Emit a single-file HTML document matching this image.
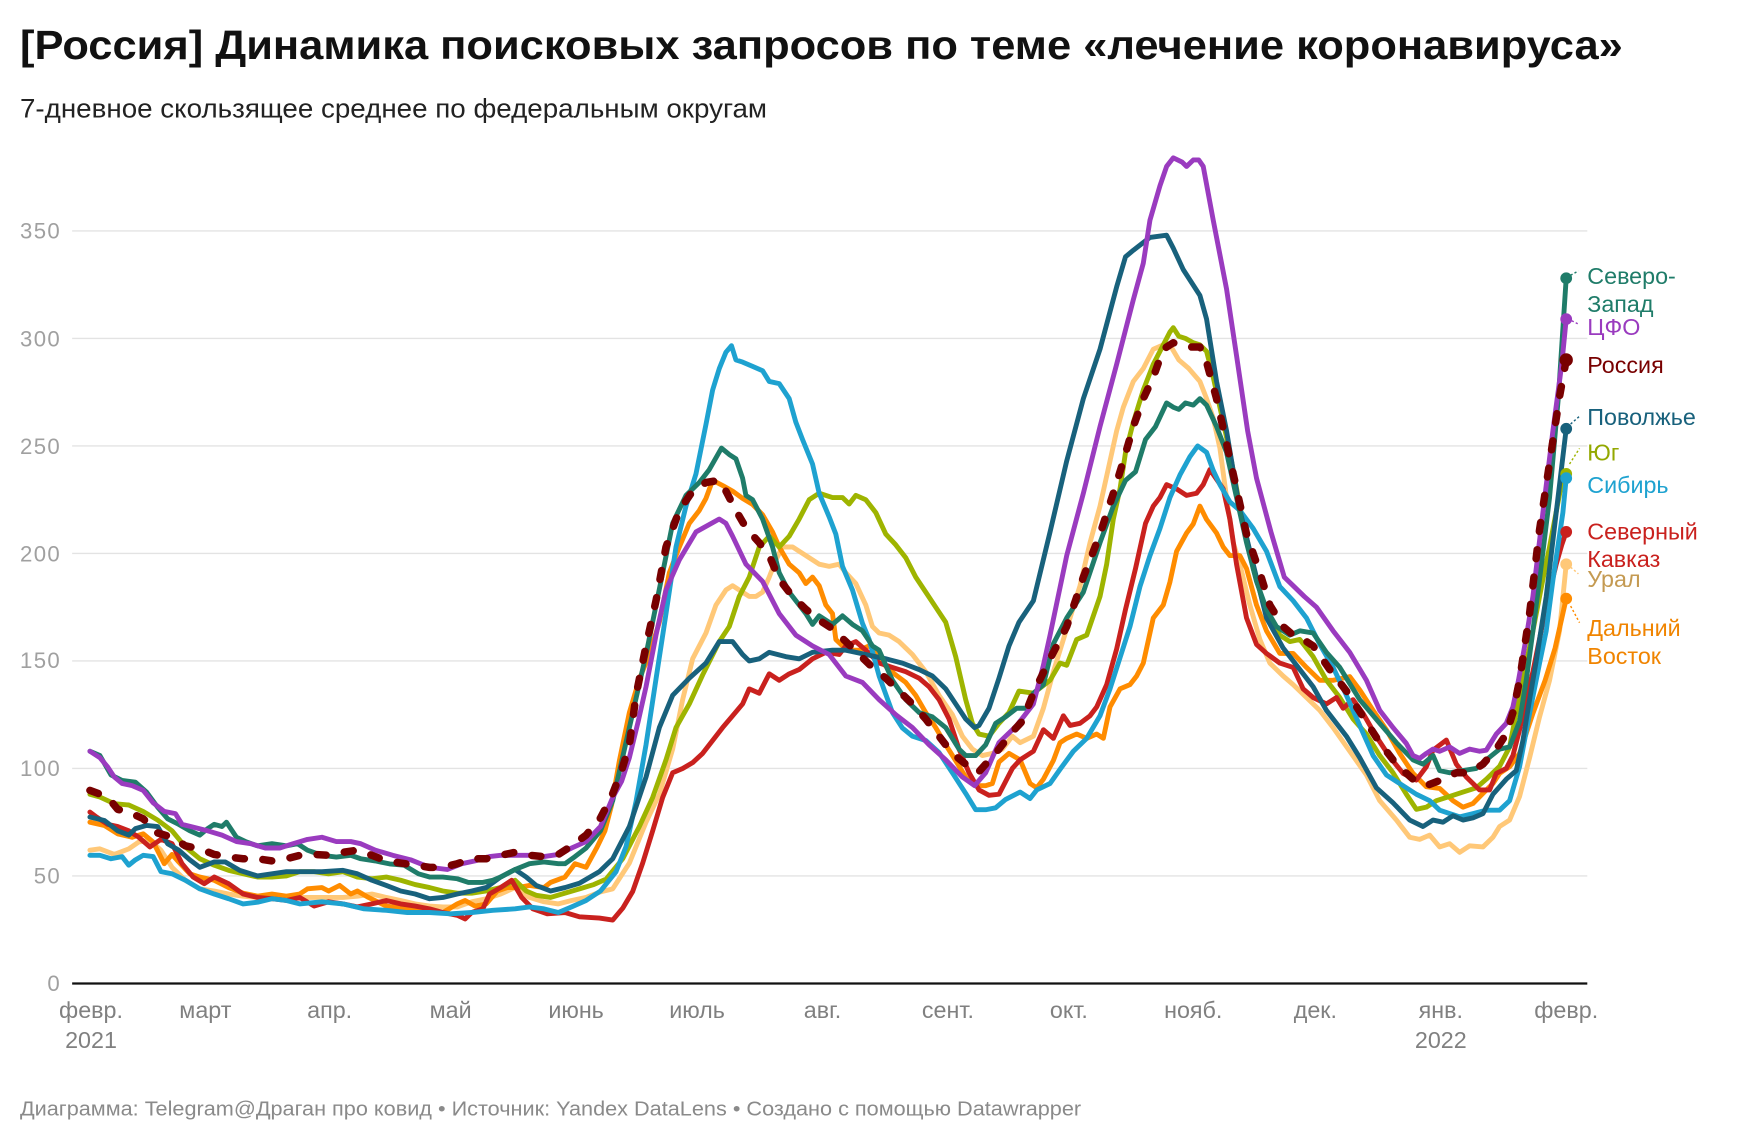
<!DOCTYPE html>
<html><head><meta charset="utf-8"><style>
html,body{margin:0;padding:0;background:#fff;}
svg{display:block;}
text{font-family:"Liberation Sans","DejaVu Sans",sans-serif;}
.d{fill:none;stroke-linejoin:round;stroke-linecap:round;}
</style></head><body>
<svg width="1740" height="1140" viewBox="0 0 1567.57 1027.03" xmlns="http://www.w3.org/2000/svg">
<rect x="0" y="0" width="1567.57" height="1027.03" fill="#fff"/>
<text x="18" y="53" font-size="37" font-weight="bold" fill="#111" textLength="1444" lengthAdjust="spacingAndGlyphs">[Россия] Динамика поисковых запросов по теме «лечение коронавируса»</text>
<text x="18" y="106" font-size="24" fill="#222" textLength="673" lengthAdjust="spacingAndGlyphs">7-дневное скользящее среднее по федеральным округам</text>

<g stroke="#e3e3e3" stroke-width="1.2">
<line x1="65" x2="1430" y1="208.05" y2="208.05"/>
<line x1="65" x2="1430" y1="304.9" y2="304.9"/>
<line x1="65" x2="1430" y1="401.75" y2="401.75"/>
<line x1="65" x2="1430" y1="498.6" y2="498.6"/>
<line x1="65" x2="1430" y1="595.45" y2="595.45"/>
<line x1="65" x2="1430" y1="692.3" y2="692.3"/>
<line x1="65" x2="1430" y1="789.15" y2="789.15"/>
</g>
<g font-size="20" fill="#a0a0a0" text-anchor="end" letter-spacing="1.2">
<text x="55" y="215">350</text>
<text x="55" y="312">300</text>
<text x="55" y="409">250</text>
<text x="55" y="506">200</text>
<text x="55" y="602">150</text>
<text x="55" y="699">100</text>
<text x="55" y="796">50</text>
<text x="55" y="893">0</text>
</g>

<g font-size="21" fill="#808080" text-anchor="middle">
<text x="82" y="917">февр.</text>
<text x="82" y="944">2021</text>
<text x="185" y="917">март</text>
<text x="297" y="917">апр.</text>
<text x="406" y="917">май</text>
<text x="519" y="917">июнь</text>
<text x="628" y="917">июль</text>
<text x="741" y="917">авг.</text>
<text x="854" y="917">сент.</text>
<text x="963" y="917">окт.</text>
<text x="1075" y="917">нояб.</text>
<text x="1185" y="917">дек.</text>
<text x="1298" y="917">янв.</text>
<text x="1298" y="944">2022</text>
<text x="1411" y="917">февр.</text>
</g>

<g transform="matrix(1 0 0 -1.937 0 886)">
<!-- Урал -->
<polyline class="d" vector-effect="non-scaling-stroke" stroke="#ffc878" stroke-width="4.9" points="81,62 90,62.6 103,60 116,62.6 125,65.8 135,66.6 145,62 155,54 167,48 180,44 193,43 206,41.6 219,40.6 232,40 245,39.4 258,39.4 270,40 290,40 309,40 322,40.6 335,41.6 348,40 361,38.6 374,37 387,36 399,35.6 412,35.6 425,38 438,39.4 451,41.6 464,44.6 477,40 490,38 503,37 515,38.6 528,40 541,42.6 552,44 567,56 582,75 594,88 606,109 615,132 624,151 636,163 645,176 654,183 660,185 669,182 675,180 681,180 687,182 693,189 699,197 705,203 714,203 726,199 738,195 747,194 756,195 762,191 771,186 780,176 786,166 792,163 801,162 810,159 822,153 834,145 846,134 858,125 867,115 876,109 885,106 894,107 903,109 912,115 919,112 931,115 940,128 949,145 961,165 973,185 982,205 991,222 1000,243 1006,257 1012,268 1021,280 1030,286 1039,295 1048,297 1054,297 1062,290 1071,286 1081,280 1087,272 1093,263 1099,249 1105,226 1111,205 1117,195 1126,176 1135,160 1144,149 1156,143 1165,139 1177,133 1189,127 1201,119 1216,108 1231,97 1243,85 1258,76 1270,68 1279,67 1288,69 1297,63.5 1306,65 1315,61 1324,64 1336,63.5 1345,68 1351,73 1360,76 1369,87 1378,105 1387,124 1396,141 1405,164 1411,195"/>
<!-- Дальний Восток -->
<polyline class="d" vector-effect="non-scaling-stroke" stroke="#ff8c00" stroke-width="4.9" points="81,75 94,73.5 106,69.6 119,68 129,69.6 138,65.8 148,55.7 155,60 161,56.5 171,51 180,49.5 193,48 206,44.6 219,42 232,40.6 245,41.6 258,40.6 270,41.6 277,44 290,44.6 296,43 306,45.6 316,41.6 322,43 332,40 348,36 367,34.7 387,33.9 399,33 412,37 419,38.6 428,36 438,37 448,43 457,44.6 467,44.6 477,45.6 490,44.6 496,47 509,49.5 518,55.7 528,54 538,63.5 545,71 551,83 558,103.6 567,126 576,141.6 585,153 594,168 603,191 612,203 621,214 630,220 636,225.6 642,234 651,231.6 660,229 669,225.6 678,222.8 687,218 696,210 702,203 711,195 720,191 726,186 732,189 738,185 744,176 750,172 753,160 759,157 765,155 774,155 783,157 789,155 798,147.5 807,143.5 816,140 825,134 834,126 843,119 852,111 861,103.6 870,96 879,92 888,92 894,93 900,103 909,107 919,104 928,93 934,91 940,95 949,103.7 955,112 961,114 970,116 979,114 988,116 994,114 1000,128.6 1009,137 1018,139 1024,143 1030,149 1039,170 1048,176 1054,186.7 1060,201 1069,209.5 1075,213.7 1081,222 1087,215.8 1096,209.5 1102,203 1108,199 1117,199 1123,193 1132,176 1141,164 1153,153.5 1165,153.5 1177,147 1189,141 1201,141 1216,142.7 1225,136.5 1237,127 1249,118 1261,107 1273,97.7 1285,91.5 1297,90.7 1309,85 1318,82 1327,83.7 1336,88.4 1345,93 1351,97.7 1360,100.8 1369,107 1381,125.6 1392,141 1401,156 1411,179"/>
<!-- Юг -->
<polyline class="d" vector-effect="non-scaling-stroke" stroke="#9eb400" stroke-width="4.9" points="81,88 90,86.7 103,83.6 116,83 129,80 142,76 155,71 167,63.5 180,58 193,55 206,52.6 219,51 232,49.5 245,49.5 258,50 270,52 283,52 296,51 309,52 322,49.5 335,48.7 348,49.5 361,48 374,46 387,44.6 399,43 412,42 425,42 438,43 451,44.6 464,48 474,43 483,41 496,40 509,42 522,44 535,46 546,48.5 561,58 576,73 588,86.5 600,104 609,119 621,130 633,143.5 648,159 657,166 666,180 675,189 684,203 693,208 702,203 711,208 720,216 729,225 738,228 750,226 759,226 765,223 771,227 780,225 789,219 798,209 807,204 816,198 825,189 834,182 843,175 852,168 861,152 870,132 876,121 882,116 891,115 900,121 909,126 918,136 931,135 946,141 955,149 961,148 970,160 979,162 991,180 997,195 1003,216 1009,230 1014,247 1021,261 1030,276 1039,288 1048,297 1054,303 1057,305 1062,301 1068,300 1075,298 1081,297 1087,294 1093,282 1099,268 1108,247 1117,222 1129,193 1141,172 1153,162 1162,159 1171,160 1183,152 1195,141 1207,133 1219,123 1231,116 1243,106 1255,98 1267,88 1276,81 1285,82 1294,85 1306,87 1318,89 1330,91 1339,95 1351,101 1360,110 1366,126 1375,149 1381,164 1390,188 1396,203 1407,233 1411,237"/>
<!-- Северный Кавказ -->
<polyline class="d" vector-effect="non-scaling-stroke" stroke="#c9211e" stroke-width="4.9" points="81,79.7 87,77.4 97,74 106,73 116,71 125,68 135,63.5 145,67 155,65 164,55.7 174,49.5 184,46.4 193,49.5 206,46.4 219,41.6 232,40 245,39.4 258,38.6 270,40 283,36 296,38 309,37 322,35.6 335,37 348,38.6 361,37 374,36 387,34.7 399,33 412,31.7 419,30 425,33 435,34.7 441,41.6 451,44.6 461,48 470,40 480,34.7 493,32.4 509,33 522,31 540,30.4 552,29.5 561,35 570,42.8 579,56 588,71 597,86.5 606,98 615,100 624,102.7 633,107 642,113 651,119 660,124.5 669,130 675,137 684,135 693,144 702,141 711,144 720,146 732,151 744,154 756,153 762,157 771,159 780,155 792,149 804,147 816,145 828,142 837,138 846,132 855,123 864,109 873,98 882,90 891,87.5 900,88 906,94 912,100 919,104 931,108 940,118 949,114 958,124.5 964,120 973,121 982,124.5 988,128.6 997,139 1006,155.6 1014,174 1023,193 1032,214 1039,222 1045,226 1051,232 1060,230 1069,227 1078,228 1084,232 1090,239 1096,234.5 1102,230 1108,216 1114,195 1123,170 1132,157.7 1141,153.5 1153,149 1165,147 1174,137 1183,133 1195,130 1204,133 1210,128 1219,132 1228,125.6 1240,114.8 1252,105.4 1264,97.7 1276,94.6 1285,100.8 1291,108.5 1303,113.2 1312,102 1321,96 1333,90 1342,90 1348,97.7 1357,100 1363,106 1369,118 1375,132 1381,145 1390,168 1396,182 1402,195 1407,204 1411,210"/>
<!-- Сибирь -->
<polyline class="d" vector-effect="non-scaling-stroke" stroke="#1ea2d0" stroke-width="4.9" points="81,59.6 90,59.6 100,58 110,59 116,55 122,57.5 129,59.6 138,59 145,52 155,51 167,48 180,44 193,41.6 206,39.4 219,37 232,37.8 245,39.4 258,38.6 270,37 290,38 309,37 328,34.7 348,34 367,33 387,33 406,32.4 425,33 444,34 464,34.7 477,35.6 490,34.7 503,33 515,35.6 528,38.6 541,43 555,52 564,63.7 573,84.6 582,111 591,141.6 600,172 609,203 618,222 627,237 636,260 642,276 648,286 654,293.6 659,296.6 663,290 669,289 678,287 687,285 693,280 702,279 711,272 717,261 723,253 732,241.6 738,228 747,217 753,209 759,194 768,183 777,167.5 783,160 792,143 804,126 813,118.8 822,115 834,113 846,107.4 858,98 870,88.4 879,80.8 888,80.8 897,81.7 906,85.6 919,89 928,86 934,90 946,93 955,99.6 967,108 979,114 991,124.5 1000,137 1009,151.5 1018,166 1027,184.6 1036,199 1045,211.6 1054,226 1063,236.5 1072,245 1079,250 1087,247 1093,238.6 1099,232 1108,224 1117,220 1129,211.6 1141,201 1153,184.6 1165,178 1177,170 1189,157.7 1201,147 1213,134 1225,120 1237,106 1249,97 1261,93 1276,88 1288,85 1297,80.6 1306,79 1315,77.5 1327,79 1339,80.6 1351,80.6 1360,85 1369,100.8 1378,125.6 1387,149 1393,164 1399,187.5 1408,219 1411,235"/>
<!-- Поволжье -->
<polyline class="d" vector-effect="non-scaling-stroke" stroke="#18617c" stroke-width="4.9" points="81,77.4 94,75.8 106,71 116,69 122,72 132,73.5 142,73 151,65 161,62 171,57.5 180,54 193,56.5 203,56.5 216,52.6 232,50 245,51 258,52 290,52 309,52.6 322,51 335,48 348,45.6 361,43 374,41.6 387,39.4 399,40 412,41.6 425,43 438,44.6 451,49.5 464,53 474,49.5 483,45.6 496,43 509,44.6 522,46.6 540,52 552,58 567,73 582,96 594,119 606,134 621,142 636,149 648,159 660,159 669,153 675,150 684,151 693,154 708,152 720,151 732,154 750,155 762,155 780,153 798,151 813,149 828,146 840,143 852,137 861,130 870,123 878,119 882,120 891,128 900,142 909,157 918,168 931,178 946,210 961,243 976,272 991,295 1006,324 1014,338 1021,341 1036,347 1051,348 1057,342 1066,332 1081,320 1087,309 1096,280 1105,257 1117,220 1129,195 1141,170 1156,156 1171,146 1183,138 1195,127 1213,115 1225,105 1240,91 1255,84 1270,76 1282,73 1291,76 1300,75 1309,78 1318,76 1327,77 1336,79 1345,88 1357,95 1366,99 1372,113 1378,132 1384,150 1393,180 1402,219 1411,258"/>
<!-- Северо-Запад -->
<polyline class="d" vector-effect="non-scaling-stroke" stroke="#1f7c69" stroke-width="4.9" points="81,108 90,106 100,97 110,94.4 122,93.6 132,89 142,82 151,76.6 161,74 171,71 180,69 187,72 193,74 200,73 204,75 213,68 222,65.8 232,64 245,65 258,64 268,65 277,62 290,59.6 303,58.8 316,59.6 325,58 338,57 351,55.6 364,55 377,51 387,49.5 399,49.5 412,48.7 422,47 435,47 444,48 451,49.5 464,53 477,55.7 490,56.5 503,55.7 509,55.7 518,59 528,63 541,71 552,85 567,119 582,153 597,191 606,214 618,227 630,233 639,239 650,249 657,246 663,244 669,235 672,227 678,225 687,216 696,203 702,191 711,182 726,172 732,167 738,171 750,167 759,171 768,167 777,164 786,157 792,155 804,141 816,132 828,126 840,124 852,119 864,109 870,106 879,106 888,111 897,121 906,124 916,128 925,128 931,135 940,139 949,158 961,170 976,182 991,205 1003,222 1014,234 1023,238 1032,253 1041,259 1051,270 1057,268 1062,267 1068,270 1075,269 1081,272 1087,269 1096,259 1105,247 1114,226 1123,205 1132,187 1141,174 1150,166 1162,162 1171,164 1183,163 1195,154 1207,147 1225,132 1243,121 1258,112 1273,104 1282,102 1291,106 1297,99 1306,98 1318,99 1330,100 1339,104 1351,109 1360,110 1369,122 1375,141 1381,164 1387,188 1396,226 1404,273 1411,328"/>
<!-- ЦФО -->
<polyline class="d" vector-effect="non-scaling-stroke" stroke="#9a3bbf" stroke-width="4.9" points="81,108 90,105 97,100.7 103,96 110,93 119,92 129,89.8 138,84 148,80 158,79 164,74 174,72.7 187,71 200,69 213,66 226,65 239,63 252,63 264,65 277,67 290,68 303,66 316,66 325,65 338,62 354,59.6 370,57.5 387,54 403,53 416,55.7 428,57 441,59 451,59.6 464,59.6 477,59.6 490,59 503,60 515,63 528,66 541,73 552,86.5 560,94 567,105 575,122 582,138 591,162 600,183 612,197 627,210 648,216 654,214 660,208 672,195 687,187 702,172 717,162 732,157 747,153 762,143 777,140 792,132 807,125 822,119 837,111 852,104 867,96 878,92 888,98 900,112 916,120 931,130 940,148 946,162 961,199 976,228 991,259 1006,288 1021,318 1030,335 1036,355 1045,371 1051,380 1057,384 1065,382 1069,380 1075,383 1080,383 1084,380 1093,355 1105,323 1114,292 1124,257 1132,235 1145,210 1157,189 1165,185 1175,180 1186,175 1201,164 1216,154 1231,141 1243,127 1255,119 1267,111.6 1273,106 1279,104.7 1285,107 1291,109 1297,108 1306,110 1315,107 1324,109 1333,108 1339,108.5 1348,116 1357,121 1363,128.7 1368,141 1375,161 1381,180 1390,219 1399,257 1407,288 1411,309"/>
<!-- Россия -->
<polyline class="d" vector-effect="non-scaling-stroke" stroke="#780000" stroke-width="7.5" stroke-dasharray="9 18.5" points="81,89.8 97,86.7 106,81 116,79.7 129,76.6 142,70 155,68 167,64 180,62.6 193,60 206,58.8 219,58 232,58 245,57 258,58 270,59.6 283,60 296,59.6 309,61 322,62 335,59.6 348,57 361,56 374,55 387,54 399,54 412,55.7 425,58 438,58 451,59.6 464,61 477,59.6 490,59 503,60 515,64 528,69 541,77 551,87 560,99 567,111 573,134 582,157 591,178 600,203 612,220 624,229 636,233 648,234 654,229 663,220 672,212 684,205 693,199 702,188 714,180 726,174 738,169 750,165 762,159 774,153 786,147 798,142 810,136 822,130 834,123 846,115 858,107 870,102 881,98 888,102 900,109 912,117 921,122 931,135 946,151 961,166 976,189 991,209 1003,228 1012,243 1021,259 1030,272 1039,282 1048,295 1057,298 1069,296 1081,296 1087,289 1096,272 1105,251 1114,230 1123,209 1135,191 1144,176 1156,166 1165,162 1171,161 1183,157 1198,146 1213,136 1228,124 1243,112 1258,102 1273,95 1285,92 1300,95 1312,98 1324,98 1336,102 1348,109 1357,116 1363,126 1369,141 1378,172 1387,211 1396,242 1405,273 1411,290"/>
</g>

<line x1="65" x2="1430" y1="886" y2="886" stroke="#111" stroke-width="2"/>

<!-- endpoint dots -->
<circle cx="1411" cy="250.7" r="5.3" fill="#1f7c69"/>
<circle cx="1411" cy="287.5" r="5.3" fill="#9a3bbf"/>
<circle cx="1411" cy="324.3" r="6" fill="#780000"/>
<circle cx="1411" cy="386.3" r="5.3" fill="#18617c"/>
<circle cx="1411" cy="426.9" r="5.3" fill="#9eb400"/>
<circle cx="1411" cy="430.8" r="5.3" fill="#1ea2d0"/>
<circle cx="1411" cy="479.2" r="5.3" fill="#c9211e"/>
<circle cx="1411" cy="508.3" r="5.3" fill="#ffc878"/>
<circle cx="1411" cy="539.3" r="5.3" fill="#ff8c00"/>

<!-- leader lines -->
<g stroke-width="1.3" stroke-dasharray="2 2" fill="none">
<line x1="1415" y1="248" x2="1422" y2="244" stroke="#1f7c69"/>
<line x1="1416" y1="289" x2="1422" y2="292" stroke="#9a3bbf"/>
<line x1="1415" y1="382" x2="1423" y2="375" stroke="#18617c"/>
<line x1="1414" y1="418" x2="1423" y2="404" stroke="#9eb400"/>
<line x1="1415" y1="511" x2="1422" y2="517" stroke="#ffc878"/>
<line x1="1415" y1="546" x2="1423" y2="561" stroke="#ff8c00"/>
</g>

<g font-size="21">
<text x="1430" y="256" fill="#1f7c69">Северо-</text>
<text x="1430" y="281" fill="#1f7c69">Запад</text>
<text x="1430" y="302" fill="#9a3bbf">ЦФО</text>
<text x="1430" y="336" fill="#780000">Россия</text>
<text x="1430" y="383" fill="#18617c">Поволжье</text>
<text x="1430" y="415" fill="#93a800">Юг</text>
<text x="1430" y="444" fill="#1ea2d0">Сибирь</text>
<text x="1430" y="486" fill="#c9211e">Северный</text>
<text x="1430" y="511" fill="#c9211e">Кавказ</text>
<text x="1430" y="529" fill="#c49a52">Урал</text>
<text x="1430" y="573" fill="#f08400">Дальний</text>
<text x="1430" y="598" fill="#f08400">Восток</text>
</g>

<text x="18" y="1005" font-size="18" fill="#8a8a8a" textLength="956" lengthAdjust="spacingAndGlyphs">Диаграмма: Telegram@Драган про ковид • Источник: Yandex DataLens • Создано с помощью Datawrapper</text>
</svg>
</body></html>
